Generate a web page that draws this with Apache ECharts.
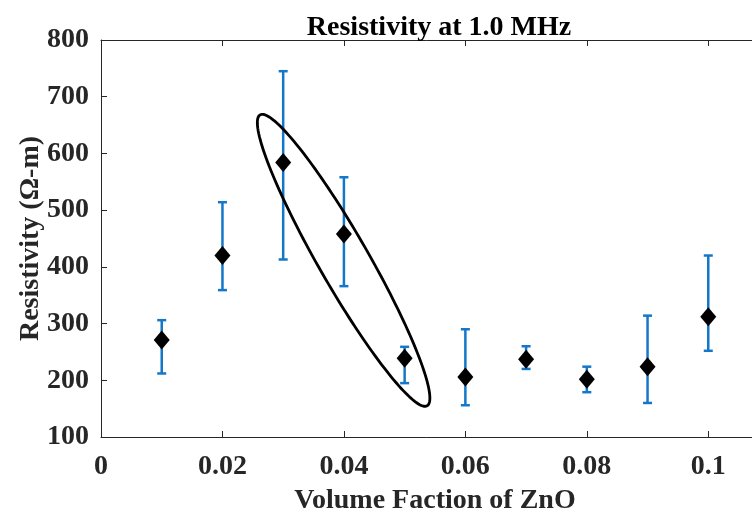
<!DOCTYPE html>
<html lang="en">
<head>
    <meta charset="UTF-8">
    <title>Resistivity at 1.0 MHz</title>
    <style>
        * {
            margin: 0;
            padding: 0;
        }

        html, body {
            height: 100%;
            width: 100%;
            background: #fff;
        }
    </style>
    <script src="https://cdn.jsdelivr.net/npm/echarts@6/dist/echarts.min.js"></script>
</head>
<body>

<div id="main" style="width: 752px;height: 512px;"></div>

<script>
    // volume fraction of ZnO
    var fractions = [0.01, 0.02, 0.03, 0.04, 0.05, 0.06, 0.07, 0.08, 0.09, 0.1];
    // mean resistivity (Ω-m)
    var resistivity = [271, 420, 584, 458, 239, 206, 237, 202, 224, 312];
    // error bar ends
    var errLow = [212, 359, 413, 366, 195, 156, 220, 179, 160, 252];
    var errHigh = [306, 514, 745, 558, 259, 290, 260, 224, 314, 420];
    // ellipse drawn round 0.03 - 0.05: the two ends of its long axis (data units)
    var ellipseEnds = [[0.0262, 668, 0.0537, 155]];

    var font = 'Liberation Serif';
    var ink = '#262626';
    var barBlue = '#1477c9';

    var myChart = echarts.init(document.getElementById('main'));

    var errData = [], pointData = [];
    for (var i = 0; i < fractions.length; i++) {
        errData.push([fractions[i], errLow[i], errHigh[i]]);
        pointData.push([fractions[i], resistivity[i]]);
    }

    var axisCommon = {
        min: 0,
        max: 0.11,
        interval: 0.02,
        axisLine: {lineStyle: {color: ink, width: 1}},
        axisTick: {inside: true, length: 6, lineStyle: {color: ink}},
        splitLine: {show: false}
    };

    var option = {
        backgroundColor: '#fff',
        animation: false,
        title: {
            text: 'Resistivity at 1.0 MHz',
            left: 434,
            top: 9,
            textAlign: 'center',
            textStyle: {fontFamily: font, fontWeight: 'bold', fontSize: 28, color: '#000'}
        },
        grid: {left: 101, right: -17, top: 40, bottom: 75, containLabel: false, outerBoundsMode: 'none'},
        xAxis: [
            Object.assign({}, axisCommon, {
                type: 'value',
                position: 'bottom',
                name: 'Volume Faction of ZnO',
                nameLocation: 'middle',
                nameGap: 50,
                nameTextStyle: {fontFamily: font, fontWeight: 'bold', fontSize: 28, color: ink},
                axisLabel: {
                    margin: 16, showMaxLabel: false,
                    fontFamily: font, fontWeight: 'bold', fontSize: 28, color: ink
                }
            }),
            Object.assign({}, axisCommon, {
                type: 'value',
                position: 'top',
                axisLabel: {show: false}
            })
        ],
        yAxis: {
            type: 'value',
            min: 100,
            max: 800,
            interval: 100,
            name: 'Resistivity (Ω-m)',
            nameLocation: 'middle',
            nameGap: 56,
            nameMoveOverlap: false,
            nameTextStyle: {fontFamily: font, fontWeight: 'bold', fontSize: 28, color: ink},
            axisLine: {show: true, lineStyle: {color: ink, width: 1}},
            axisTick: {show: true, inside: true, length: 6, lineStyle: {color: ink}},
            splitLine: {show: false},
            axisLabel: {margin: 12, fontFamily: font, fontWeight: 'bold', fontSize: 28, color: ink}
        },
        series: [
            {
                type: 'custom',
                name: 'error',
                data: errData,
                encode: {x: 0, y: [1, 2]},
                renderItem: function (params, api) {
                    var x = api.value(0);
                    var lo = api.coord([x, api.value(1)]);
                    var hi = api.coord([x, api.value(2)]);
                    var half = 4.5;
                    var st = {stroke: barBlue, lineWidth: 2.5};
                    return {
                        type: 'group',
                        children: [
                            {type: 'line', shape: {x1: lo[0], y1: lo[1], x2: hi[0], y2: hi[1]}, style: st},
                            {type: 'line', shape: {x1: lo[0] - half, y1: lo[1], x2: lo[0] + half, y2: lo[1]}, style: st},
                            {type: 'line', shape: {x1: hi[0] - half, y1: hi[1], x2: hi[0] + half, y2: hi[1]}, style: st}
                        ]
                    };
                }
            },
            {
                type: 'custom',
                name: 'ellipse',
                data: ellipseEnds,
                encode: {x: [0, 2], y: [1, 3]},
                renderItem: function (params, api) {
                    var p1 = api.coord([api.value(0), api.value(1)]);
                    var p2 = api.coord([api.value(2), api.value(3)]);
                    var cx = (p1[0] + p2[0]) / 2, cy = (p1[1] + p2[1]) / 2;
                    var dx = p2[0] - p1[0], dy = p2[1] - p1[1];
                    var a = Math.sqrt(dx * dx + dy * dy) / 2, b = 25;
                    var ang = Math.atan2(dy, dx);
                    var pts = [];
                    for (var k = 0; k < 160; k++) {
                        var t = k / 160 * Math.PI * 2;
                        var ex = a * Math.cos(t), ey = b * Math.sin(t);
                        pts.push([cx + ex * Math.cos(ang) - ey * Math.sin(ang),
                            cy + ex * Math.sin(ang) + ey * Math.cos(ang)]);
                    }
                    return {
                        type: 'polygon',
                        shape: {points: pts},
                        style: {fill: 'none', stroke: '#000', lineWidth: 2.8}
                    };
                }
            },
            {
                type: 'scatter',
                name: 'resistivity',
                data: pointData,
                symbol: 'diamond',
                symbolSize: [16, 19],
                itemStyle: {color: '#000', opacity: 1, borderWidth: 0}
            }
        ]
    };
    myChart.setOption(option);
</script>

</body>
</html>
